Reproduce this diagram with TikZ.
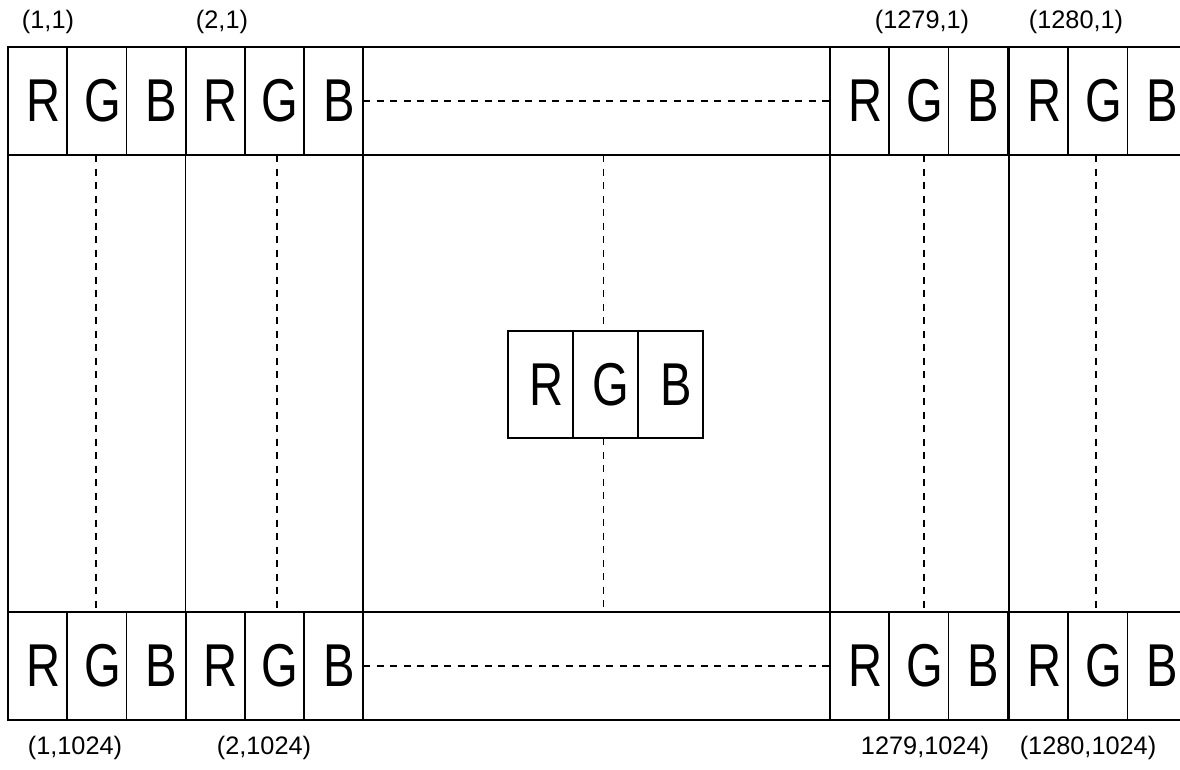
\documentclass[tikz,border=0pt]{standalone}
\usepackage{fontspec}
\setmainfont{Liberation Sans}
\newfontfamily\cellfont[FakeStretch=0.78]{Liberation Sans}
\usepackage{tikz}
\usetikzlibrary{positioning}
\tikzset
{
  subpix/.style={draw,line width=1.3pt,outer sep=0pt,inner sep=0pt,
    minimum width=1.48cm,minimum height=2.7cm,
    font=\cellfont\fontsize{43}{45}\selectfont,
    execute at begin node={\hspace*{0.28cm}}},
  midpix/.style={subpix,minimum width=1.62cm,minimum height=2.68cm},
  border/.style={line width=1.3pt},
  linkdash/.style={line width=1.2pt,dash pattern=on 5.2pt off 4.4pt},
  coord/.style={font=\fontsize{18}{20}\selectfont,inner sep=0pt}
}

\begin{document}
\begin{tikzpicture}[x=0.025cm,y=-0.025cm]

    % Fix the picture size
    \useasboundingbox (0,0) rectangle (1180,770);

    % Rows of sub-pixels: first and last line of the screen
    \foreach \row/\yc in {top/101, bot/666}
    {
      \foreach \pix/\xl in {a/8, b/185.5, c/830, d/1009}
      {
        \node[subpix, anchor=west] (\row\pix R) at (\xl,\yc) {R};
        \node[subpix, right=0pt of \row\pix R] (\row\pix G) {G};
        \node[subpix, right=0pt of \row\pix G] (\row\pix B) {B};
      }
    }

    % Long edges between the pixel blocks
    \draw[border] (topbB.north east) -- (topcR.north west);
    \draw[border] (topbB.south east) -- (topcR.south west);
    \draw[border] (botbB.north east) -- (botcR.north west);
    \draw[border] (botbB.south east) -- (botcR.south west);

    % Column edges down the screen
    \foreach \pix in {a, b, c, d}
      \draw[border] (top\pix R.south west) -- (bot\pix R.north west);
    \draw[border] (topbB.south east) -- (botbB.north east);

    % Dotted runs along the rows
    \draw[linkdash] (topbB.east) -- (topcR.west);
    \draw[linkdash] (botbB.east) -- (botcR.west);

    % Dotted runs down the columns
    \foreach \pix/\dx in {a/-1, b/3, c/5, d/-2}
      \draw[linkdash] ([xshift=\dx*0.025cm]top\pix G.south) -- ([xshift=\dx*0.025cm]bot\pix G.north);

    % Pixel in the middle of the screen
    \node[midpix] (midG) at (605.5,384.5) {G};
    \node[midpix, left=0pt of midG] (midR) {R};
    \node[midpix, right=0pt of midG] (midB) {B};
    \draw[linkdash] ([xshift=-2*0.025cm]midG.north |- topbB.south) -- ([xshift=-2*0.025cm]midG.north);
    \draw[linkdash] ([xshift=-2*0.025cm]midG.south) -- ([xshift=-2*0.025cm]midG.south |- botbB.north);

    % Pixel coordinates
    \node[coord] (c11) at (48,22) {(1,1)};
    \node[coord] (c21) at (222,22) {(2,1)};
    \node[coord] (c12791) at (922,22) {(1279,1)};
    \node[coord] (c12801) at (1076,22) {(1280,1)};
    \node[coord] (c11024) at (75,748) {(1,1024)};
    \node[coord] (c21024) at (264,748) {(2,1024)};
    \node[coord] (c12791024) at (925,748) {1279,1024)};
    \node[coord] (c12801024) at (1088,748) {(1280,1024)};

\end{tikzpicture}
\end{document}
